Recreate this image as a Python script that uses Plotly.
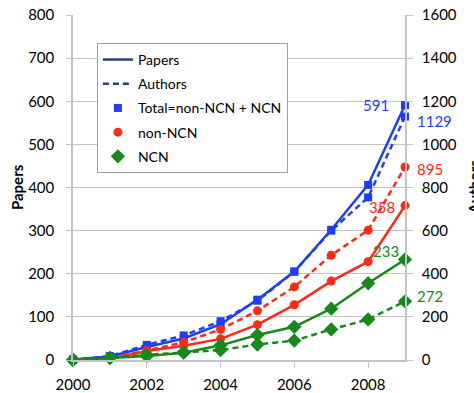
import plotly.graph_objects as go

years = [2000, 2001, 2002, 2003, 2004, 2005, 2006, 2007, 2008, 2009]
papers_total = [1, 8, 30, 50, 83, 140, 205, 302, 406, 591]
papers_non_ncn = [1, 3, 21, 33, 49, 82, 128, 183, 228, 358]
papers_ncn = [0, 5, 9, 17, 34, 58, 77, 119, 178, 233]
authors_total = [2, 18, 70, 114, 180, 275, 410, 600, 754, 1129]
authors_non_ncn = [2, 8, 44, 82, 142, 228, 339, 486, 602, 895]
authors_ncn = [0, 10, 24, 36, 46, 72, 90, 142, 188, 272]

BLUE = "#1f3dff"
RED = "#ff2a14"
GREEN = "#17891a"
NAVY = "#22446e"
GRID = "#c4c4c4"
FONT = "Lato, Open Sans, sans-serif"

fig = go.Figure()

series = [
    (papers_total, authors_total, BLUE, "square", 8),
    (papers_non_ncn, authors_non_ncn, RED, "circle", 9),
    (papers_ncn, authors_ncn, GREEN, "diamond", 11),
]
for p, a, c, sym, ms in series:
    fig.add_trace(go.Scatter(x=years, y=p, mode="lines+markers", yaxis="y",
                             line=dict(color=c, width=2.5),
                             marker=dict(symbol=sym, size=ms, color=c),
                             showlegend=False, cliponaxis=False))
    fig.add_trace(go.Scatter(x=years, y=a, mode="lines+markers", yaxis="y2",
                             line=dict(color=c, width=2.5, dash="6px,4px"),
                             marker=dict(symbol=sym, size=ms, color=c),
                             showlegend=False, cliponaxis=False))

# legend-only entries
legend_entries = [
    dict(name="Papers", mode="lines", line=dict(color=NAVY, width=2.5)),
    dict(name="Authors", mode="lines", line=dict(color=NAVY, width=2.5, dash="6px,4px")),
    dict(name="Total=non-NCN + NCN", mode="markers", marker=dict(symbol="square", size=8, color=BLUE)),
    dict(name="non-NCN", mode="markers", marker=dict(symbol="circle", size=9, color=RED)),
    dict(name="NCN", mode="markers", marker=dict(symbol="diamond", size=11, color=GREEN)),
]
for i, e in enumerate(legend_entries):
    fig.add_trace(go.Scatter(x=[None], y=[None], legendgroup=f"g{i}", showlegend=True, **e))

# value labels at the last year
labels = [
    (papers_total[-1], "y", BLUE, "right", -14, 0),
    (authors_total[-1], "y2", BLUE, "left", 10, -4),
    (authors_non_ncn[-1], "y2", RED, "left", 10, -2),
    (papers_non_ncn[-1], "y", RED, "right", -8, -1),
    (papers_ncn[-1], "y", GREEN, "right", -4, 9),
    (authors_ncn[-1], "y2", GREEN, "left", 10, 5),
]
for v, yref, c, anchor, xs, ys in labels:
    fig.add_annotation(x=years[-1], y=v, xref="x", yref=yref, text=str(v),
                       showarrow=False, xanchor=anchor, yanchor="middle",
                       xshift=xs, yshift=ys, font=dict(family=FONT, size=15, color=c))

fig.add_annotation(x=-0.17, y=0.5, xref="paper", yref="paper", text="<b>Papers</b>",
                   textangle=-90, showarrow=False, xanchor="center", yanchor="middle",
                   font=dict(family=FONT, size=15, color="black"))
fig.add_annotation(x=1.205, y=0.5, xref="paper", yref="paper", text="<b>Authors</b>",
                   textangle=-90, showarrow=False, xanchor="center", yanchor="middle",
                   font=dict(family=FONT, size=15, color="black"))

fig.update_layout(
    width=474, height=393,
    margin=dict(l=73, r=69, t=15, b=33, autoexpand=False),
    paper_bgcolor="white", plot_bgcolor="white",
    font=dict(family=FONT, size=15, color="black"),
    xaxis=dict(range=[2000, 2009], dtick=2, tick0=2000, showgrid=False,
               showline=True, linecolor=GRID, linewidth=1.5,
               ticks="outside", ticklen=6, tickcolor=GRID,
               ticklabelstandoff=4, zeroline=False, automargin=False),
    yaxis=dict(range=[0, 800], dtick=100, showgrid=True, gridcolor=GRID, gridwidth=1,
               showline=True, linecolor=GRID, linewidth=1.5,
               ticks="outside", ticklen=5, tickcolor=GRID,
               ticklabelstandoff=9, zeroline=False, automargin=False),
    yaxis2=dict(range=[0, 1600], dtick=200, overlaying="y", side="right",
                showgrid=False, showline=True, linecolor=GRID, linewidth=1.5,
                ticks="outside", ticklen=6, tickcolor=GRID,
                ticklabelstandoff=6, zeroline=False, automargin=False),
    showlegend=True,
    legend=dict(x=0.072, y=0.919, xanchor="left", yanchor="top",
                bordercolor="#a0a0a0", borderwidth=1, bgcolor="white",
                font=dict(family=FONT, size=14), traceorder="grouped",
                tracegroupgap=3),
)

fig.write_html("out.html", config={"displayModeBar": False},
               post_script="document.body.style.margin='0';document.body.style.overflow='hidden';")
